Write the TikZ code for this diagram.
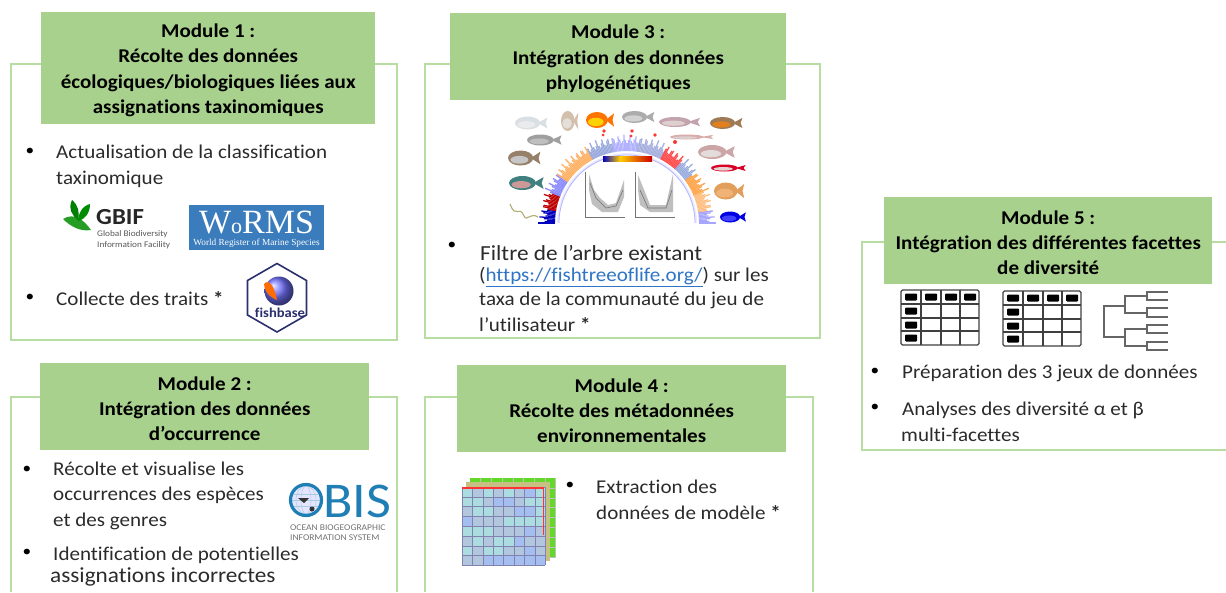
\documentclass[tikz,border=0pt]{standalone}
\usepackage{fontspec}
\setmainfont{Carlito}[FakeStretch=1.08,Ligatures=NoCommon]
\newfontfamily\serifl{Liberation Serif}
\usetikzlibrary{calc}
\definecolor{frameg}{HTML}{B7DDA3}
\definecolor{headg}{HTML}{A9D18E}
\definecolor{ink}{HTML}{2B2B2B}
\definecolor{linkb}{HTML}{2F75C5}
\definecolor{wormsb}{HTML}{3A7CBC}
\definecolor{obisb}{HTML}{1F7FB5}
\definecolor{navy}{HTML}{2A2F6E}
\definecolor{rasta}{HTML}{ABDCE0}
\definecolor{rastb}{HTML}{B2C6DE}
\definecolor{rastc}{HTML}{A3BEEF}
\tikzset{
  x=1pt,y=-1pt,
  frameline/.style={draw=frameg,line width=2.9pt},
  header/.style={fill=headg,draw=none,anchor=north west,inner sep=0pt,align=center,text=black,
    font=\fontsize{19.5}{25.3}\selectfont\bfseries},
  body/.style={anchor=base west,inner sep=0pt,text=ink,font=\fontsize{19.5}{22}\selectfont},
  bodylarge/.style={body,font=\fontsize{21.5}{22}\selectfont},
  bul/.style={anchor=center,inner sep=0pt,text=black,font=\fontsize{16}{20}\selectfont},
  tablecell/.style={draw=black!75,line width=1.3pt},
  branch/.style={draw=black!60,line width=1.1pt},
}
\newcommand{\fishic}[6]{% x y width height colour accent
  \fill[#5] (#1+0.26*#3,#2) -- (#1+0.58*#3,#2-0.42*#4) -- (#1+0.52*#3,#2) -- (#1+0.58*#3,#2+0.42*#4) -- cycle;
  \fill[#5] (#1-0.08*#3,#2) ellipse [x radius=0.42*#3,y radius=0.5*#4];
  \fill[#6] (#1-0.12*#3,#2+0.12*#4) ellipse [x radius=0.3*#3,y radius=0.26*#4];
}
\newcommand{\gridtable}[2]{% x y
  \begin{scope}[shift={(#1,#2)}]
    \draw[tablecell,rounded corners=1.5pt] (0,0) rectangle (78,55);
    \foreach \xx in {20,40,59} \draw[tablecell] (\xx,0) -- (\xx,55);
    \foreach \yy in {14,28,41} \draw[tablecell] (0,\yy) -- (78,\yy);
    \foreach \xx in {4,24,44,63} \fill[black,rounded corners=1pt] (\xx,3.5) rectangle +(12,7);
    \foreach \yy in {17.5,31.5,44.5} \fill[black,rounded corners=1pt] (4,\yy) rectangle +(12,7);
  \end{scope}
}
\newcommand{\headstrut}{\rule{0pt}{18pt}}
\begin{document}
\begin{tikzpicture}
\useasboundingbox (0,0) rectangle (1226,592);
\fill[white] (0,0) rectangle (1226,592);

% frames
\draw[frameline] (11,64) rectangle (397,340);
\draw[frameline] (425,64) rectangle (820,338);
\draw[frameline] (11,592) -- (11,397) -- (397,397) -- (397,592);
\draw[frameline] (425,592) -- (425,397) -- (813,397) -- (813,592);
\draw[frameline] (1226,242) -- (862,242) -- (862,450) -- (1226,450);

% headers
\node[header,minimum width=334pt,minimum height=112pt] (m1) at (41,12)
  {\headstrut Module 1 :\\Récolte des données\\écologiques/biologiques liées aux\\assignations taxinomiques};
\node[header,minimum width=336pt,minimum height=87pt] (m3) at (450,13)
  {\headstrut Module 3 :\\Intégration des données\\phylogénétiques};
\node[header,minimum width=329pt,minimum height=87pt] (m2) at (40,363)
  {\headstrut Module 2 :\\Intégration des données\\d’occurrence};
\node[header,minimum width=329pt,minimum height=87pt] (m4) at (457,365)
  {\headstrut Module 4 :\\Récolte des métadonnées\\environnementales};
\node[header,minimum width=328pt,minimum height=87pt] (m5) at (884,197)
  {\headstrut Module 5 :\\Intégration des différentes facettes\\de diversité};

% Module 1 text
\node[bul] (b11) at (30,152) {•};
\node[body] (t11) at (56,158) {Actualisation de la classification};
\node[body] (t12) at (56,184) {taxinomique};
\node[bul] (b12) at (30,298) {•};
\node[body] (t13) at (56,305) {Collecte des traits \textbf{*}};

% GBIF logo
\fill[green!55!black!85] (63,219) .. controls (74,212) and (84,220) .. (91,230) .. controls (80,232) and (70,226) .. (63,219) -- cycle;
\fill[green!50!black] (72,200) .. controls (68,208) and (72,216) .. (78,220) .. controls (80,212) and (78,205) .. (72,200) -- cycle;
\fill[green!55!black] (90,204) .. controls (82,206) and (78,214) .. (78,221) .. controls (86,219) and (90,212) .. (90,204) -- cycle;
\node[anchor=base west,inner sep=0pt,font=\fontsize{23}{24}\selectfont\bfseries,text=black!85] (gbif) at (96,224) {GBIF};
\node[anchor=base west,inner sep=0pt,font=\fontsize{8.6}{10}\selectfont,text=black!65,align=left] (gbif2) at (97,236) {Global Biodiversity};
\node[anchor=base west,inner sep=0pt,font=\fontsize{8.6}{10}\selectfont,text=black!65,align=left] (gbif3) at (97,247) {Information Facility};

% WoRMS logo
\fill[wormsb] (189,205) rectangle (324,250);
\node[anchor=base,inner sep=0pt,font=\fontsize{34}{34}\serifl\selectfont,text=white] (worms) at (256.5,233) {W{\fontsize{22}{22}\selectfont o}RMS};
\node[anchor=base,inner sep=0pt,font=\fontsize{9.3}{10}\serifl\selectfont,text=white] (worms2) at (256.5,245) {World Register of Marine Species};

% fishbase logo
\draw[navy,line width=1.6pt,fill=white] (277,263.5) -- (306.5,280.5) -- (306.5,315) -- (277,332) -- (247.5,315) -- (247.5,280.5) -- cycle;
\shade[ball color=blue!55!white] (279,291) circle (14.5);
\fill[orange!85!red] (264,284) .. controls (268,279) and (274,284) .. (277,300) .. controls (272,298) and (265,294) .. (264,284) -- cycle;
\node[anchor=base,inner sep=0pt,font=\fontsize{13.5}{14}\selectfont\bfseries,text=navy] (fishb) at (280,317) {fishbase};

% Module 3: fish arc
\fill[blue!8] (557,223) arc [start angle=180,end angle=0,x radius=70,y radius=-70] -- cycle;
\fill[white] (559,223) arc [start angle=180,end angle=0,x radius=68,y radius=-68] -- cycle;
\foreach \s/\e/\c in {
  170/180/blue!75!black, 158/170/red!75!black, 145/158/blue!45,
  118/145/orange!60, 100/118/cyan!35!blue!40, 82/100/blue!30,
  62/82/cyan!30!blue!35, 48/62/red!70, 36/48/cyan!40!blue!40,
  22/36/orange!70, 8/22/orange!50, 0/8/blue!35} {
  \foreach \a in {\s,...,\e} {
    \pgfmathsetmacro{\ro}{89-9*abs(sin(\a*47))}
    \draw[\c,line width=1.3pt] ($(627,223)+({72*cos(\a)},{-72*sin(\a)})$) -- ($(627,223)+({\ro*cos(\a)},{-\ro*sin(\a)})$);
  }
}
\draw[blue!30,line width=0.8pt] (559,223) arc [start angle=180,end angle=0,x radius=68,y radius=-68];
\fill[red!80] (604,131) circle (1.8) (632,131) circle (1.8) (655,135) circle (1.8) (631,136) circle (1.5) (603,135) circle (1.5) (675,142) circle (2);
% colour bar
\shade[left color=blue!75!black,right color=yellow!60!orange] (603,156) rectangle (620,161);
\shade[left color=yellow!60!orange,right color=red!80!black] (620,156) rectangle (652,161);
% inner plots
\draw[black!55,line width=0.5pt] (585,172) -- (585,217) -- (625,217);
\draw[black!55,line width=0.5pt] (635,172) -- (635,217) -- (675,217);
\fill[black!25] (589,174) -- (594,190) -- (600,198) -- (608,205) -- (616,203) -- (624,180) -- (624,197) -- (618,212) -- (602,212) -- (592,204) -- (589,190) -- cycle;
\fill[black!25] (638,175) -- (645,192) -- (650,205) -- (666,205) -- (673,174) -- (673,212) -- (650,212) -- (640,205) -- (638,190) -- cycle;
\draw[black!55,line width=0.6pt] (590,183) -- (596,198) -- (606,208) -- (616,206) -- (623,190);
\draw[black!55,line width=0.6pt] (640,190) -- (648,208) -- (666,208) -- (672,190);
% eel
\draw[yellow!50!black!70,line width=1.1pt] (510,204) .. controls (516,220) and (519,204) .. (524,216) .. controls (527,222) and (530,212) .. (538,217);
% fishes
\fishic{530}{123}{30}{13}{cyan!15!gray!30}{cyan!10!gray!18}{}
\fishic{569}{121}{16}{20}{orange!30!gray!50}{orange!20!gray!25}{}
\fishic{599}{120}{26}{16}{orange!90!red}{yellow!70!orange}{}
\fishic{637}{117}{30}{12}{gray!65}{gray!35}{}
\fishic{678}{122}{38}{10}{purple!30!gray!55}{pink!50!gray!50}{}
\fishic{725}{123}{30}{12}{brown!70!black!80}{orange!55!brown}{}
\fishic{543}{140}{32}{11}{gray!75}{gray!50}{}
\fishic{690}{137}{40}{5}{pink!70!gray}{pink!45!gray!50}{}
\fishic{715}{152}{34}{14}{pink!60!gray}{pink!40!gray!35}{}
\fishic{523}{158}{30}{15}{gray!65!brown}{gray!45}{}
\fishic{727}{168}{32}{7}{purple!60!red}{pink!60!gray!50}{}
\fishic{525}{183}{32}{14}{teal!50!gray}{red!35!gray!60}{}
\fishic{728}{191}{28}{17}{brown!60!orange!75}{brown!40!orange!60}{}
\fishic{732}{217}{24}{11}{blue!90!black}{blue!75}{}

% Module 3 text
\node[bul] (b31) at (452,246) {•};
\node[bodylarge] (t31) at (480,260) {Filtre de l’arbre existant};
\node[body] (t32) at (479,281) {(\textcolor{linkb}{\underline{https://fishtreeoflife.org/}}) sur les};
\node[body] (t33) at (479,305) {taxa de la communauté du jeu de};
\node[body] (t34) at (479,331) {l’utilisateur \textbf{*}};

% Module 2 text
\node[bul] (b21) at (27,470) {•};
\node[body] (t21) at (53,475) {Récolte et visualise les};
\node[body] (t22) at (53,500) {occurrences des espèces};
\node[body] (t23) at (53,526) {et des genres};
\node[bul] (b22) at (27,553) {•};
\node[body] (t24) at (53,560) {Identification de potentielles};
\node[bodylarge] (t25) at (50,582) {assignations incorrectes};

% OBIS logo
\fill[blue!10] (306,500) circle (14);
\foreach \r in {5,10} \draw[obisb!40,line width=0.4pt] (306,500) ellipse [x radius=\r,y radius=14];
\draw[obisb!40,line width=0.4pt] (292,500) -- (320,500) (294,494) -- (318,494) (294,506) -- (318,506);
\draw[obisb,line width=3.2pt] (306,500) circle (15.5);
\fill[black!80] (298,498) -- (309,498) -- (304,503) -- cycle;
\fill[black!80] (312,509) circle (2.5);
\node[anchor=base west,inner sep=0pt,font=\fontsize{50}{50}\selectfont,text=obisb] (obis) at (323,517.5) {BIS};
\node[anchor=base west,inner sep=0pt,font=\fontsize{8.8}{10}\selectfont,text=black!55] (obis2) at (290,530) {OCEAN BIOGEOGRAPHIC};
\node[anchor=base west,inner sep=0pt,font=\fontsize{8.8}{10}\selectfont,text=black!55] (obis3) at (290,540) {INFORMATION SYSTEM};

% Module 4 raster stack
\fill[green!55!lime!70!gray] (470,478) rectangle (556,557);
\foreach \i in {1,...,8} {
  \draw[black!25,line width=0.5pt] (470+\i*10.7,478) -- (470+\i*10.7,557);
  \draw[black!25,line width=0.5pt] (470,478+\i*9.9) -- (556,478+\i*9.9);
}
\fill[brown!35!yellow!45!gray!70] (466,482) rectangle (550,561);
\foreach \r/\cl in {
  0/{a,b,a,b,a,b,c,a},1/{a,a,b,c,c,b,a,a},2/{b,a,a,b,b,c,c,a},3/{c,b,b,b,a,a,a,a},
  4/{a,a,a,b,b,b,c,b},5/{b,a,b,a,a,c,b,b},6/{a,b,a,a,b,b,c,b},7/{b,b,c,c,c,c,c,c}} {
  \foreach \k [count=\q from 0] in \cl {
    \fill[rast\k] (462+\q*10.4,487+\r*9.8) rectangle +(10.4,9.8);
  }
}
\foreach \i in {0,...,8} {
  \draw[black!35!blue!40!gray!70,line width=0.6pt] (462+\i*10.4,487) -- (462+\i*10.4,565.4);
  \draw[black!35!blue!40!gray!70,line width=0.6pt] (462,487+\i*9.8) -- (545.2,487+\i*9.8);
}
\draw[red!80,line width=1.5pt] (462,488) -- (543.5,488) -- (543.5,535);
\node[bul] (b41) at (570,486) {•};
\node[body] (t41) at (596,493) {Extraction des};
\node[body] (t42) at (596,519) {données de modèle \textbf{*}};

% Module 5 icons
\gridtable{901}{290}
\gridtable{1003}{291}
\draw[branch] (1125,306) -- (1104,306) -- (1104,337) -- (1125,337);
\draw[branch] (1147,296) -- (1125,296) -- (1125,313) -- (1147,313);
\draw[branch] (1147,329) -- (1125,329) -- (1125,346) -- (1147,346);
\draw[branch] (1168,292) -- (1147,292) -- (1147,300) -- (1168,300);
\draw[branch] (1168,308) -- (1147,308) -- (1147,317) -- (1168,317);
\draw[branch] (1168,325) -- (1147,325) -- (1147,333) -- (1168,333);
\draw[branch] (1168,342) -- (1147,342) -- (1147,350) -- (1168,350);

% Module 5 text
\node[bul] (b51) at (875,372) {•};
\node[body] (t51) at (902,378) {Préparation des 3 jeux de données};
\node[bul] (b52) at (875,408) {•};
\node[body] (t52) at (902,415) {Analyses des diversité α et β};
\node[body] (t53) at (901,441) {multi-facettes};
\end{tikzpicture}
\end{document}
